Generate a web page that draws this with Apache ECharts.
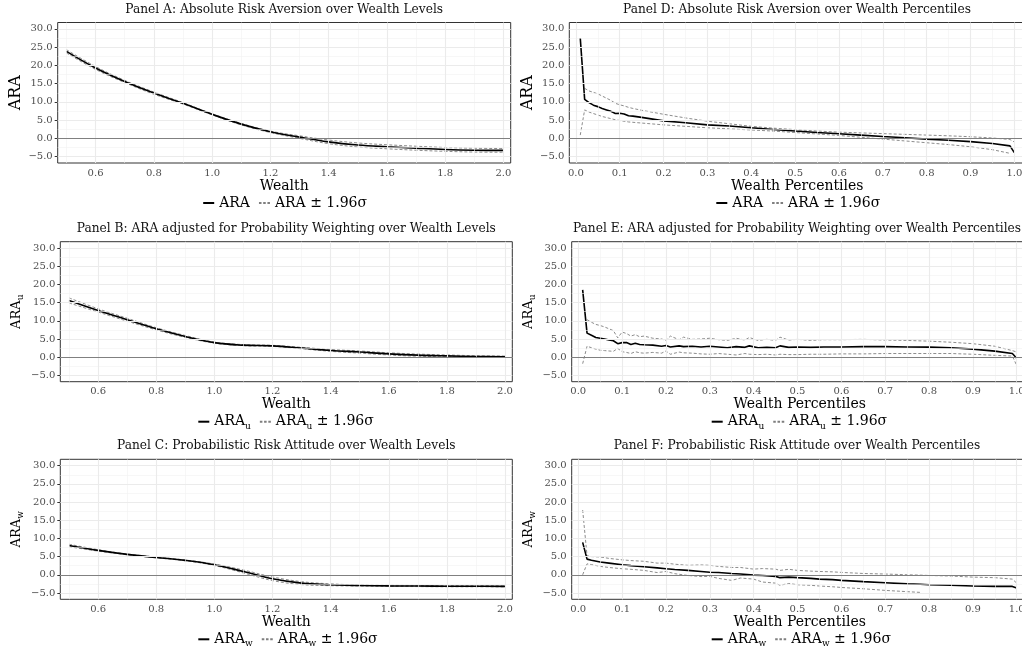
<!DOCTYPE html>
<html>
<head>
<meta charset="utf-8">
<script src="https://cdn.jsdelivr.net/npm/echarts@6/dist/echarts.min.js"></script>
<style>
html,body{margin:0;padding:0;background:#fff;}
#chart{width:1022px;height:649px;}
</style>
</head>
<body>
<div id="chart"></div>
<script>
// ---------------- DATA ----------------
// Wealth levels (panels A-C)
const wealth = [0.5,0.6,0.7,0.8,0.9,1.0,1.1,1.2,1.3,1.4,1.5,1.6,1.7,1.8,1.9,2.0];
const araA    = [23.85,19.3,15.6,12.4,9.6,6.6,3.9,1.8,0.34,-0.95,-1.8,-2.3,-2.7,-3.05,-3.25,-3.3];
const araAUp  = [24.3,19.7,15.9,12.7,9.8,6.75,4.1,2.0,0.7,-0.45,-1.25,-1.75,-2.15,-2.5,-2.7,-2.8];
const araALo  = [23.4,18.9,15.3,12.1,9.4,6.45,3.7,1.6,0.0,-1.45,-2.35,-2.85,-3.25,-3.55,-3.75,-3.8];
const araB    = [15.6,12.85,10.3,7.8,5.7,4.0,3.3,3.1,2.5,1.85,1.4,0.9,0.55,0.35,0.2,0.1];
const araBUp  = [16.3,13.3,10.7,8.1,5.95,4.15,3.45,3.25,2.7,2.1,1.7,1.2,0.85,0.6,0.4,0.3];
const araBLo  = [14.9,12.4,9.9,7.5,5.45,3.85,3.15,2.95,2.3,1.6,1.1,0.6,0.25,0.1,0.0,-0.1];
const araC    = [8.05,6.7,5.6,4.75,3.95,2.75,0.9,-1.1,-2.3,-2.75,-2.95,-3.05,-3.1,-3.15,-3.15,-3.2];
const araCUp  = [8.4,6.9,5.7,4.85,4.05,2.95,1.3,-0.6,-1.9,-2.5,-2.8,-2.9,-2.95,-3.0,-3.0,-3.05];
const araCLo  = [7.7,6.5,5.5,4.65,3.85,2.55,0.5,-1.6,-2.7,-3.0,-3.1,-3.2,-3.25,-3.3,-3.3,-3.35];

// Wealth percentiles (panel D)
const pctD   = [0.01,0.02,0.03,0.04,0.05,0.06,0.07,0.08,0.09,0.10,0.11,0.12,0.13,0.15,0.20,0.25,0.30,0.35,0.40,0.45,0.50,0.55,0.60,0.65,0.70,0.75,0.80,0.85,0.90,0.95,0.99,1.00];
const araD   = [27.5,10.7,9.8,9.1,8.7,8.2,7.8,7.4,6.8,6.9,6.7,6.2,6.1,5.75,4.8,4.3,3.7,3.4,2.9,2.45,2.0,1.6,1.25,0.9,0.5,0.15,-0.2,-0.5,-0.9,-1.4,-2.05,-3.9];
const araDUp = [null,13.7,13.0,12.6,12.2,11.6,11.0,10.4,9.6,9.2,8.9,8.5,8.2,7.7,6.6,5.6,4.7,4.0,3.3,2.8,2.4,2.0,1.7,1.5,1.3,1.1,0.9,0.7,0.45,0.1,-0.3,-1.0];
const araDLo = [0.9,7.8,7.2,6.8,6.4,6.0,5.7,5.4,5.1,4.9,4.7,4.5,4.4,4.2,3.7,3.3,2.9,2.6,2.3,2.0,1.6,1.2,0.8,0.3,-0.2,-0.7,-1.2,-1.7,-2.3,-3.1,-4.1,null];

// Wealth percentiles (panel E)
const pctE   = [0.01,0.02,0.03,0.04,0.05,0.06,0.07,0.08,0.09,0.10,0.11,0.12,0.13,0.14,0.15,0.17,0.19,0.20,0.21,0.23,0.24,0.26,0.28,0.30,0.32,0.34,0.36,0.38,0.39,0.41,0.43,0.45,0.46,0.48,0.50,0.53,0.56,0.60,0.65,0.70,0.75,0.80,0.85,0.90,0.95,0.99,1.00];
const araE   = [18.5,6.6,6.0,5.4,5.2,5.0,4.7,4.5,3.7,4.0,4.0,3.5,3.8,3.5,3.4,3.3,3.0,3.2,2.8,3.1,2.9,3.0,2.8,3.0,2.8,2.6,2.9,2.7,3.1,2.6,2.7,2.6,3.1,2.7,2.8,2.7,2.8,2.8,2.9,2.9,2.8,2.75,2.6,2.2,1.65,1.0,-0.3];
const araEUp = [null,10.3,9.6,9.0,8.7,8.3,7.8,7.3,5.3,6.9,6.5,5.8,6.2,5.6,5.8,5.2,5.0,4.6,5.8,4.8,5.5,4.9,5.0,5.2,4.8,4.6,5.2,4.7,5.4,4.6,4.9,4.6,5.5,4.7,4.9,4.6,4.8,4.8,4.9,4.7,4.6,4.4,4.1,3.7,3.0,1.8,1.4];
const araELo = [-1.8,3.0,2.6,2.2,1.9,1.8,1.7,1.6,2.4,1.5,1.3,1.0,1.5,1.2,1.1,1.3,1.1,1.7,0.8,1.4,1.2,1.1,0.9,0.8,1.0,0.8,0.6,1.0,0.8,0.7,0.8,0.6,0.8,0.7,0.7,0.8,0.8,0.9,0.9,1.0,1.0,1.0,1.0,0.8,0.5,0.3,-2.3];

// Wealth percentiles (panel F)
const pctF   = [0.01,0.02,0.03,0.05,0.07,0.10,0.12,0.15,0.18,0.20,0.22,0.25,0.28,0.30,0.32,0.35,0.37,0.40,0.42,0.45,0.46,0.48,0.50,0.53,0.55,0.58,0.60,0.65,0.70,0.75,0.78,0.80,0.85,0.90,0.95,0.99,1.00];
const araF   = [8.9,4.3,4.0,3.5,3.2,2.75,2.5,2.2,1.9,1.65,1.45,1.2,0.9,0.7,0.6,0.35,0.2,-0.1,-0.2,-0.45,-0.8,-0.65,-0.8,-1.0,-1.2,-1.35,-1.55,-1.9,-2.2,-2.5,-2.6,-2.75,-2.9,-3.1,-3.2,-3.2,-3.65];
const araFUp = [17.8,5.2,5.0,4.9,4.5,4.1,3.9,3.7,3.2,3.2,2.9,2.6,2.7,2.6,2.3,2.0,2.0,1.55,1.7,1.55,1.2,1.5,1.2,1.0,0.9,0.8,0.65,0.35,0.2,0.0,-0.1,-0.2,-0.35,-0.65,-0.8,-1.2,-2.3];
const araFLo = [0.0,3.0,2.8,2.3,2.0,1.65,1.5,1.2,0.6,0.9,0.3,-0.2,-0.5,-0.45,-1.0,-1.55,-0.9,-1.2,-2.0,-2.3,-2.9,-2.4,-2.75,-2.9,-3.1,-3.3,-3.5,-3.85,-4.3,-4.65,-4.85,null,null,null,null,null,null];

// Tick labels
const yTicks      = [-5,0,5,10,15,20,25,30];
const yMinor      = [-2.5,2.5,7.5,12.5,17.5,22.5,27.5];
const wealthTicks = [0.6,0.8,1.0,1.2,1.4,1.6,1.8,2.0];
const wealthMinor = [0.5,0.7,0.9,1.1,1.3,1.5,1.7,1.9];
const pctTicks    = [0.0,0.1,0.2,0.3,0.4,0.5,0.6,0.7,0.8,0.9,1.0];
const pctMinor    = [0.05,0.15,0.25,0.35,0.45,0.55,0.65,0.75,0.85,0.95];

const titles = [
  'Panel A: Absolute Risk Aversion over Wealth Levels',
  'Panel B: ARA adjusted for Probability Weighting over Wealth Levels',
  'Panel C: Probabilistic Risk Attitude over Wealth Levels',
  'Panel D: Absolute Risk Aversion over Wealth Percentiles',
  'Panel E: ARA adjusted for Probability Weighting over Wealth Percentiles',
  'Panel F: Probabilistic Risk Attitude over Wealth Percentiles'
];
const seriesNames = [
  ['ARA', 'ARA \u00b1 1.96\u03c3'],
  ['ARAu', 'ARAu \u00b1 1.96\u03c3'],
  ['ARAw', 'ARAw \u00b1 1.96\u03c3']
];

// ---------------- LAYOUT ----------------
const FONT = '"DejaVu Serif", serif';
const ctx = document.createElement('canvas').getContext('2d');
ctx.font = '100px ' + FONT;
const titleSize = 100 * 318 / ctx.measureText(titles[0]).width;

const panels = [
  {grid:{left:57.7, top:22.5, width:453, height:140.5}, x:wealth, y:araA, up:araAUp, lo:araALo, lvl:true, name:0, big:true},
  {grid:{left:60.3, top:241.7, width:452, height:140}, x:wealth, y:araB, up:araBUp, lo:araBLo, lvl:true, name:1},
  {grid:{left:60.3, top:459.3, width:452, height:140}, x:wealth, y:araC, up:araCUp, lo:araCLo, lvl:true, name:2},
  {grid:{left:569.3, top:22.5, width:456, height:140.5}, x:pctD, y:araD, up:araDUp, lo:araDLo, lvl:false, name:0, big:true},
  {grid:{left:571.7, top:241.7, width:456, height:140}, x:pctE, y:araE, up:araEUp, lo:araELo, lvl:false, name:1},
  {grid:{left:571.7, top:459.3, width:456, height:140}, x:pctF, y:araF, up:araFUp, lo:araFLo, lvl:false, name:2}
];

const fmtNum = v => (v < 0 ? '\u2212' + Math.abs(v).toFixed(1) : v.toFixed(1));
const sub = {fontFamily: FONT, fontSize: 9, lineHeight: 9, verticalAlign: 'bottom', color: '#000'};
const DASH_ICON = 'path://M0,0h3v1h-3zM5,0h3v1h-3zM10,0h3v1h-3z';

const grids = [], xAxes = [], yAxes = [], series = [], legends = [], titleComps = [];
const pair = (xs, ys) => xs.map((x, i) => [x, ys[i]]);

panels.forEach((p, i) => {
  const g = p.grid;
  grids.push(Object.assign({show: true, borderColor: '#333333', borderWidth: 1, backgroundColor: 'transparent', outerBoundsMode: 'none', containLabel: false}, g));
  const ticks = p.lvl ? wealthTicks : pctTicks;
  const minor = p.lvl ? wealthMinor : pctMinor;
  xAxes.push({
    type: 'value', gridIndex: i,
    min: p.lvl ? 0.47 : -0.015, max: p.lvl ? 2.025 : 1.025,
    name: p.lvl ? 'Wealth' : 'Wealth Percentiles', nameLocation: 'middle', nameGap: 16,
    nameTextStyle: {fontFamily: FONT, fontSize: 14, color: '#000'},
    axisLine: {show: false},
    axisTick: {show: true, length: 3, lineStyle: {color: '#333'}, customValues: ticks},
    axisLabel: {fontFamily: FONT, fontSize: 10, color: '#4D4D4D', margin: 5, customValues: ticks, formatter: v => fmtNum(v)},
    splitLine: {show: false}
  });
  const nm = seriesNames[p.name][0];
  const yName = p.big ? 'ARA' : '{m|ARA}{s|' + nm.slice(3) + '}';
  yAxes.push({
    type: 'value', gridIndex: i, min: -6.75, max: 31.75,
    name: yName, nameLocation: 'middle', nameGap: p.big ? 32 : 35,
    nameTextStyle: {fontFamily: FONT, fontSize: p.big ? 16 : 13, color: '#000', lineHeight: 17,
      rich: {m: {fontFamily: FONT, fontSize: 13, color: '#000', lineHeight: 17, verticalAlign: 'middle'}, s: sub}},
    axisLine: {show: false},
    axisTick: {show: true, length: 3, lineStyle: {color: '#333'}, customValues: yTicks},
    axisLabel: {fontFamily: FONT, fontSize: 10, color: '#4D4D4D', margin: 5, customValues: yTicks, formatter: v => fmtNum(v)},
    splitLine: {show: false}
  });
  // grid lines and zero line
  const majorLines = ticks.map(v => ({xAxis: v})).concat(yTicks.map(v => ({yAxis: v})));
  const minorLines = minor.map(v => ({xAxis: v})).concat(yMinor.map(v => ({yAxis: v})));
  series.push({
    type: 'line', xAxisIndex: i, yAxisIndex: i, data: [], silent: true, z: 1,
    markLine: {silent: true, symbol: 'none', animation: false, label: {show: false},
      lineStyle: {color: '#F2F2F2', width: 0.6, type: 'solid'}, data: minorLines}
  });
  series.push({
    type: 'line', xAxisIndex: i, yAxisIndex: i, data: [], silent: true, z: 1,
    markLine: {silent: true, symbol: 'none', animation: false, label: {show: false},
      lineStyle: {color: '#EBEBEB', width: 1.1, type: 'solid'}, data: majorLines}
  });
  series.push({
    type: 'line', xAxisIndex: i, yAxisIndex: i, data: [], silent: true, z: 2,
    markLine: {silent: true, symbol: 'none', animation: false, label: {show: false},
      lineStyle: {color: '#808080', width: 1, type: 'solid'}, data: [{yAxis: 0}]}
  });
  const names = seriesNames[p.name];
  const lineBase = {type: 'line', xAxisIndex: i, yAxisIndex: i, showSymbol: false, symbol: 'none', animation: false, z: 3, connectNulls: false};
  series.push(Object.assign({}, lineBase, {name: names[1], data: pair(p.x, p.up), smooth: p.lvl ? 0.4 : false,
    lineStyle: {color: '#7F7F7F', width: 0.9, type: [3, 2]}, itemStyle: {color: '#7F7F7F'}}));
  series.push(Object.assign({}, lineBase, {name: names[1], data: pair(p.x, p.lo), smooth: p.lvl ? 0.4 : false,
    lineStyle: {color: '#7F7F7F', width: 0.9, type: [3, 2]}, itemStyle: {color: '#7F7F7F'}}));
  series.push(Object.assign({}, lineBase, {name: names[0], data: pair(p.x, p.y), smooth: p.lvl ? 0.4 : false, z: 4,
    lineStyle: {color: '#000', width: 1.6, type: 'solid'}, itemStyle: {color: '#000'}}));

  const cx = g.left + g.width / 2;
  const legW = p.big ? 170 : 184;
  legends.push({
    data: [
      {name: names[0], icon: 'rect', itemStyle: {color: '#000'}},
      {name: names[1], icon: DASH_ICON, itemStyle: {color: '#7F7F7F'}}
    ],
    orient: 'horizontal', left: Math.min(cx, p.lvl ? 1e9 : 800) - legW / 2 + 4, top: g.top + g.height + 31,
    itemWidth: 11, itemHeight: 2, itemGap: 9, padding: 0, selectedMode: false, symbolKeepAspect: false,
    textStyle: {fontFamily: FONT, fontSize: 14, color: '#000', lineHeight: 18,
      rich: {m: {fontFamily: FONT, fontSize: 14, color: '#000', lineHeight: 18, verticalAlign: 'middle'}, s: sub}},
    formatter: n => n.replace(/^ARA([uw])/, '{m|ARA}{s|$1}')
  });
  titleComps.push({
    text: titles[i], left: Math.min(cx, 797), top: g.top - 13, textAlign: 'center', textVerticalAlign: 'middle', padding: 0,
    textStyle: {fontFamily: FONT, fontSize: titleSize, fontWeight: 'normal', color: '#111'}
  });
});

const chart = echarts.init(document.getElementById('chart'), null, {renderer: 'canvas'});
chart.setOption({
  backgroundColor: '#fff',
  animation: false,
  title: titleComps,
  legend: legends,
  grid: grids,
  xAxis: xAxes,
  yAxis: yAxes,
  series: series
});
</script>
</body>
</html>
